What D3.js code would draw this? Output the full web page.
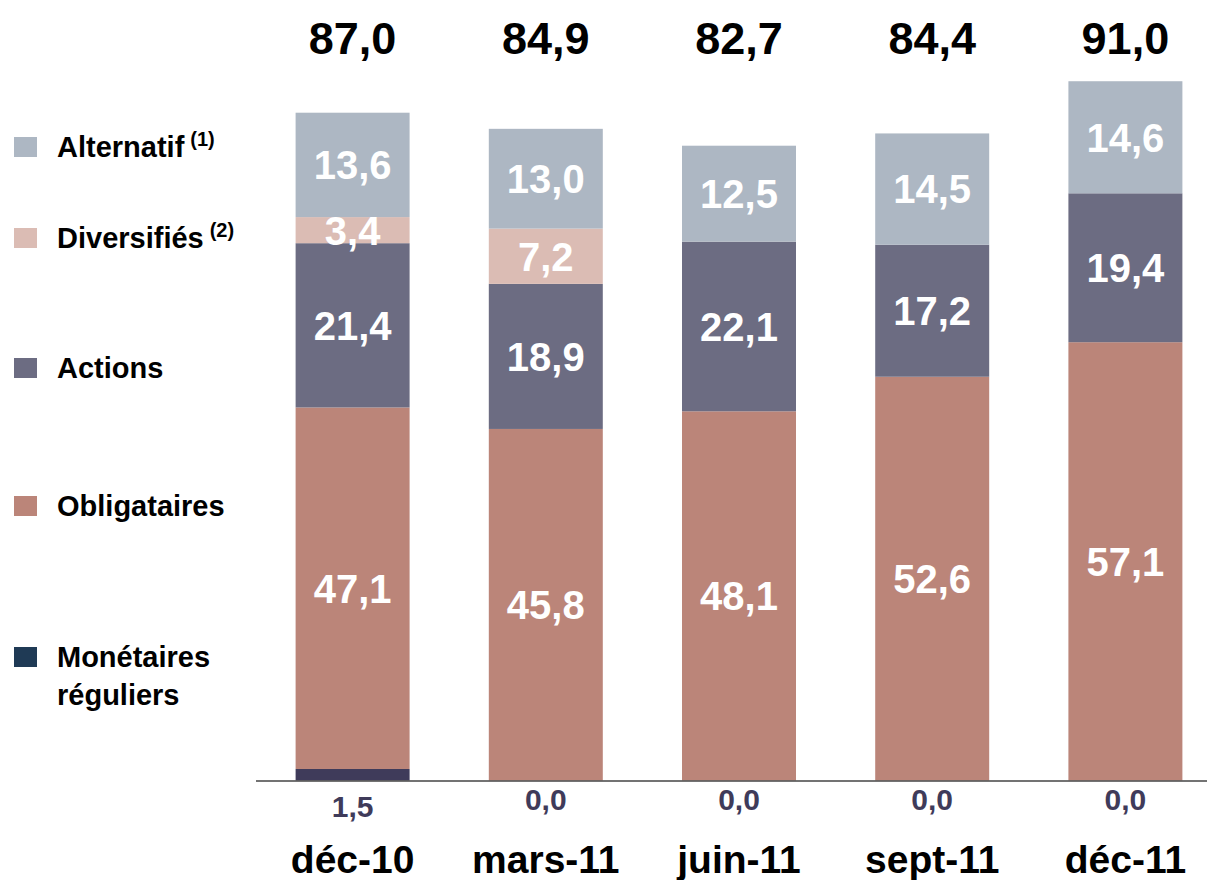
<!DOCTYPE html>
<html>
<head>
<meta charset="utf-8">
<script src="https://cdn.jsdelivr.net/npm/d3@7"></script>
<style>
  body { margin: 0; background: #fff; }
  text { font-family: "Liberation Sans", Arial, sans-serif; font-weight: bold; }
</style>
</head>
<body>
<div class="chart"></div>
<script>
  var periods = ["déc-10", "mars-11", "juin-11", "sept-11", "déc-11"];
  var monetaires = [1.5, 0.0, 0.0, 0.0, 0.0];
  var obligataires = [47.1, 45.8, 48.1, 52.6, 57.1];
  var actions = [21.4, 18.9, 22.1, 17.2, 19.4];
  var diversifies = [3.4, 7.2, 0.0, 0.0, 0.0];
  var alternatif = [13.6, 13.0, 12.5, 14.5, 14.6];
  var totals = [87.0, 84.9, 82.7, 84.4, 91.0];

  var seriesNames = ["monetaires", "obligataires", "actions", "diversifies", "alternatif"];
  var seriesValues = [monetaires, obligataires, actions, diversifies, alternatif];

  var colors = {
    monetaires: "#3f3b5a",
    obligataires: "#bb8579",
    actions: "#6c6c82",
    diversifies: "#dbbcb4",
    alternatif: "#adb7c3"
  };

  var legendItems = [
    {key: "alternatif", lines: ["Alternatif"], sup: "(1)", y: 147, color: "#adb7c3"},
    {key: "diversifies", lines: ["Diversifiés"], sup: "(2)", y: 238, color: "#dbbcb4"},
    {key: "actions", lines: ["Actions"], y: 368, color: "#6c6c82"},
    {key: "obligataires", lines: ["Obligataires"], y: 506, color: "#bb8579"},
    {key: "monetaires", lines: ["Monétaires", "réguliers"], y: 657, color: "#1f3a55"}
  ];

  var width = 1207, height = 880;
  var fmt = function(v) { return d3.format(".1f")(v).replace(".", ","); };

  var table = periods.map(function(p, i) {
    var row = {period: p};
    seriesNames.forEach(function(s, j) { row[s] = seriesValues[j][i]; });
    return row;
  });

  var layers = d3.stack().keys(seriesNames)(table);

  var xScale = d3.scaleBand()
      .domain(periods)
      .range([256, 1222])
      .paddingInner(0.41)
      .paddingOuter(0.205);

  var yScale = d3.scaleLinear()
      .domain([0, 91])
      .range([780.5, 82]);

  var svg = d3.select(".chart")
      .append("svg")
      .attr("width", width)
      .attr("height", height);

  // stacked bars
  var groups = svg.selectAll("g.layer")
      .data(layers)
      .enter().append("g")
      .attr("class", "layer")
      .attr("fill", function(d) { return colors[d.key]; });

  groups.selectAll("rect")
      .data(function(d) { return d; })
      .enter().append("rect")
      .attr("x", function(d) { return xScale(d.data.period); })
      .attr("width", xScale.bandwidth())
      .attr("y", function(d) { return yScale(d[1]); })
      .attr("height", function(d) { return yScale(d[0]) - yScale(d[1]); });

  // white labels inside segments
  layers.forEach(function(layer) {
    if (layer.key === "monetaires") return;
    svg.append("g").selectAll("text")
        .data(layer.filter(function(d) { return d[1] - d[0] > 0; }))
        .enter().append("text")
        .attr("x", function(d) { return xScale(d.data.period) + xScale.bandwidth() / 2; })
        .attr("y", function(d) { return (yScale(d[0]) + yScale(d[1])) / 2; })
        .attr("dy", "0.36em")
        .attr("text-anchor", "middle")
        .attr("fill", "#fff")
        .attr("font-size", 40)
        .text(function(d) { return fmt(d[1] - d[0]); });
  });

  // baseline
  svg.append("line")
      .attr("x1", 256).attr("x2", 1207)
      .attr("y1", yScale(0) + 0.5).attr("y2", yScale(0) + 0.5)
      .attr("stroke", "#444")
      .attr("stroke-width", 1.5);

  // monetaires values below axis
  svg.append("g").selectAll("text")
      .data(monetaires)
      .enter().append("text")
      .attr("x", function(d, i) { return xScale(periods[i]) + xScale.bandwidth() / 2; })
      .attr("y", function(d) { return d > 0 ? 817 : 810; })
      .attr("text-anchor", "middle")
      .attr("fill", "#3f3b5a")
      .attr("font-size", 30)
      .text(fmt);

  // totals on top
  svg.append("g").selectAll("text")
      .data(totals)
      .enter().append("text")
      .attr("x", function(d, i) { return xScale(periods[i]) + xScale.bandwidth() / 2; })
      .attr("y", 54)
      .attr("text-anchor", "middle")
      .attr("fill", "#000")
      .attr("font-size", 45)
      .text(fmt);

  // category axis
  var xAxis = d3.axisBottom(xScale).tickSize(0).tickPadding(0);
  var axisG = svg.append("g")
      .attr("transform", "translate(0,873)")
      .call(xAxis);
  axisG.select(".domain").remove();
  axisG.selectAll("text")
      .attr("font-size", 39)
      .attr("fill", "#000")
      .attr("dy", 0)
      .style("font-family", "Liberation Sans, Arial, sans-serif")
      .style("font-weight", "bold");

  // legend
  var legend = svg.append("g").attr("class", "legend");
  legendItems.forEach(function(item) {
    legend.append("rect")
        .attr("x", 14).attr("y", item.y - 10)
        .attr("width", 23).attr("height", 20)
        .attr("fill", item.color);
    var t = legend.append("text")
        .attr("x", 57).attr("y", item.y + 10)
        .attr("font-size", 29)
        .attr("fill", "#000");
    item.lines.forEach(function(line, k) {
      t.append("tspan")
          .attr("x", 57)
          .attr("dy", k === 0 ? 0 : 38)
          .text(line);
    });
    if (item.sup) {
      t.append("tspan")
          .attr("dx", 6)
          .attr("dy", -11)
          .attr("font-size", 20)
          .text(item.sup);
    }
  });
</script>
</body>
</html>
